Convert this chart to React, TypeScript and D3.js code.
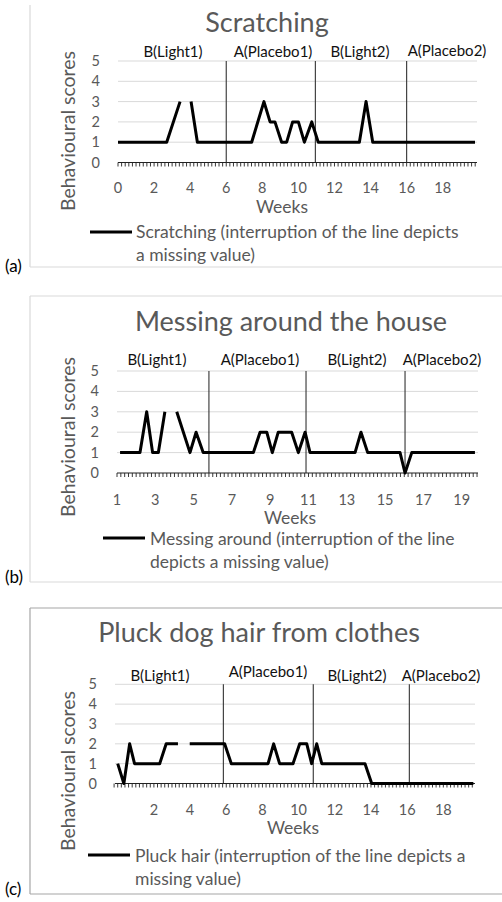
import React from "react";
import * as d3 from "d3";

// ---------- data ----------
const titles = ["Scratching", "Messing around the house", "Pluck dog hair from clothes"];
const panelLetters = ["(a)", "(b)", "(c)"];
const phaseNames = ["B(Light1)", "A(Placebo1)", "B(Light2)", "A(Placebo2)"];
const yTicks = [0, 1, 2, 3, 4, 5];

const legendA = ["Scratching (interruption of the line depicts", "a missing value)"];
const legendB = ["Messing around (interruption of the line", "depicts a missing value)"];
const legendC = ["Pluck hair (interruption of the line depicts a", "missing value)"];

const weeksA = [0, 2.7, 3.44, 3.75, 4.05, 4.4, 7.41, 8.09, 8.43, 8.7, 9.07, 9.35, 9.68, 10.0, 10.33, 10.74, 11.1, 13.38, 13.75, 14.12, 19.79];
const scoresA = [1, 1, 3, null, 3, 1, 1, 3, 2, 2, 1, 1, 2, 2, 1, 2, 1, 1, 3, 1, 1];
const phaseLinesA = [6, 10.94, 16];
const xTicksA = [0, 2, 4, 6, 8, 10, 12, 14, 16, 18];

const weeksB = [1.16, 2.2, 2.55, 2.86, 3.16, 3.5, 3.8, 4.12, 4.81, 5.13, 5.5, 8.12, 8.47, 8.82, 9.11, 9.42, 10.12, 10.47, 10.82, 11.08, 13.43, 13.74, 14.09, 15.78, 16.04, 16.39, 19.69];
const scoresB = [1, 1, 3, 1, 1, 3, null, 3, 1, 2, 1, 1, 2, 2, 1, 2, 2, 1, 2, 1, 1, 2, 1, 1, 0, 1, 1];
const phaseLinesB = [5.8, 10.87, 16.04];
const xTicksB = [1, 3, 5, 7, 9, 11, 13, 15, 17, 19];

const weeksC = [0, 0.34, 0.66, 0.93, 2.32, 2.68, 3.33, 3.65, 3.98, 5.91, 6.28, 8.31, 8.62, 8.95, 9.69, 10.06, 10.45, 10.72, 11.0, 11.28, 13.67, 14.04, 19.66];
const scoresC = [1, 0, 2, 1, 1, 2, 2, null, 2, 2, 1, 1, 2, 1, 1, 2, 2, 1, 2, 1, 1, 0, 0];
const phaseLinesC = [5.84, 10.81, 16.12];
const xTicksC = [2, 4, 6, 8, 10, 12, 14, 16, 18];

// ---------- layout ----------
const FONT = "Lato, 'Open Sans', sans-serif";
const GRAY = "#595959";

type PanelCfg = {
  title: string;
  letter: string;
  legend: string[];
  weeks: number[];
  scores: (number | null)[];
  phaseLines: number[];
  xTicks: number[];
  xDomain: [number, number];
  xRange: [number, number];
  yRange: [number, number];
  titleX: number;
  titleY: number;
  phaseX: number[];
  phaseY: number[];
  frameTop: number | null;
  frameTopY: number;
  frameBottom: number;
  frameColor: string;
  yTitleCY: number;
  xLabelY: number;
  weeksX: number;
  weeksY: number;
  legLineX: [number, number];
  legLineY: number;
  legTextX: number;
  legTextY: number;
  letterY: number;
};

const panels: PanelCfg[] = [
  {
    title: titles[0], letter: panelLetters[0], legend: legendA,
    weeks: weeksA, scores: scoresA, phaseLines: phaseLinesA, xTicks: xTicksA,
    xDomain: [0, 19.9], xRange: [118, 477], yRange: [162.5, 61],
    titleX: 267, titleY: 32,
    phaseX: [173, 273, 360, 447], phaseY: [57, 57, 57, 56],
    frameTop: null, frameTopY: 5, frameBottom: 267, frameColor: "#d9d9d9",
    yTitleCY: 131, xLabelY: 192.5, weeksX: 282, weeksY: 213,
    legLineX: [90, 132], legLineY: 232, legTextX: 136, legTextY: 238, letterY: 272,
  },
  {
    title: titles[1], letter: panelLetters[1], legend: legendB,
    weeks: weeksB, scores: scoresB, phaseLines: phaseLinesB, xTicks: xTicksB,
    xDomain: [1, 19.85], xRange: [117, 478], yRange: [473, 371],
    titleX: 291, titleY: 331,
    phaseX: [157, 260, 357, 442], phaseY: [365, 365, 365, 365],
    frameTop: 296, frameTopY: 296, frameBottom: 582, frameColor: "#d9d9d9",
    yTitleCY: 437, xLabelY: 504.5, weeksX: 290, weeksY: 524,
    legLineX: [103, 145], legLineY: 538, legTextX: 150, legTextY: 545, letterY: 583,
  },
  {
    title: titles[2], letter: panelLetters[2], legend: legendC,
    weeks: weeksC, scores: scoresC, phaseLines: phaseLinesC, xTicks: xTicksC,
    xDomain: [-0.15, 19.75], xRange: [115, 475], yRange: [783.5, 684.3],
    titleX: 259, titleY: 642,
    phaseX: [160, 268, 357, 441], phaseY: [681, 677, 681, 681],
    frameTop: 608, frameTopY: 608, frameBottom: 894, frameColor: "#a6a6a6",
    yTitleCY: 771, xLabelY: 814.5, weeksX: 293, weeksY: 834,
    legLineX: [88, 130], legLineY: 855, legTextX: 135, legTextY: 862, letterY: 895,
  },
];

function Panel({ p }: { p: PanelCfg }) {
  const x = d3.scaleLinear().domain(p.xDomain).range(p.xRange);
  const y = d3.scaleLinear().domain([0, 5]).range(p.yRange);
  const pts = p.weeks.map((w, i) => ({ w, s: p.scores[i] }));
  const line = d3
    .line<{ w: number; s: number | null }>()
    .defined((d) => d.s !== null)
    .x((d) => x(d.w))
    .y((d) => y(d.s as number));
  const minor = d3.range(Math.round(p.xDomain[0] / 0.2), Math.floor(p.xDomain[1] / 0.2) + 1).map((k) => k * 0.2);
  const [x0, x1] = p.xRange;
  return (
    <g>
      {/* frame */}
      {p.frameTop !== null && (
        <line x1={30} x2={502} y1={p.frameTop} y2={p.frameTop} stroke={p.frameColor} strokeWidth={1.2} />
      )}
      <line x1={30} x2={30} y1={p.frameTopY} y2={p.frameBottom} stroke={p.frameColor} strokeWidth={1.2} />
      <line x1={30} x2={502} y1={p.frameBottom} y2={p.frameBottom} stroke={p.frameColor} strokeWidth={1.2} />

      <text x={p.titleX} y={p.titleY} textAnchor="middle" fontSize={27} fill={GRAY}>{p.title}</text>

      {/* grid */}
      {yTicks.slice(1).map((t) => (
        <line key={t} x1={x0} x2={x1} y1={y(t)} y2={y(t)} stroke="#d9d9d9" strokeWidth={1} />
      ))}
      {yTicks.map((t) => (
        <text key={t} x={p.xRange[0] - 18} y={y(t) + 5} textAnchor="end" fontSize={14.5} fill={GRAY}>{t}</text>
      ))}

      {/* phase lines */}
      {p.phaseLines.map((v, i) => (
        <line key={i} x1={x(v)} x2={x(v)} y1={y(5)} y2={y(0)} stroke="#333" strokeWidth={1.1} />
      ))}
      {phaseNames.map((n, i) => (
        <text key={n} x={p.phaseX[i]} y={p.phaseY[i]} textAnchor="middle" fontSize={15} fill="#111">{n}</text>
      ))}

      {/* x axis */}
      <line x1={x0} x2={x1} y1={y(0)} y2={y(0)} stroke="#222" strokeWidth={1.2} />
      {minor.map((m, i) => (
        <line key={i} x1={x(m)} x2={x(m)} y1={y(0)} y2={y(0) + 4} stroke="#222" strokeWidth={0.9} />
      ))}
      {p.xTicks.map((t) => (
        <text key={t} x={x(t)} y={p.xLabelY} textAnchor="middle" fontSize={14.5} fill={GRAY}>{t}</text>
      ))}
      <text x={p.weeksX} y={p.weeksY} textAnchor="middle" fontSize={17.5} fill={GRAY}>Weeks</text>
      <text transform={`translate(75,${p.yTitleCY}) rotate(-90)`} textAnchor="middle" fontSize={19.5} fill={GRAY}>Behavioural scores</text>

      {/* data */}
      <path d={line(pts) || ""} fill="none" stroke="#000" strokeWidth={3} strokeLinejoin="round" />

      {/* legend */}
      <line x1={p.legLineX[0]} x2={p.legLineX[1]} y1={p.legLineY} y2={p.legLineY} stroke="#000" strokeWidth={3} />
      {p.legend.map((l, i) => (
        <text key={i} x={p.legTextX} y={p.legTextY + i * 22.5} fontSize={17.5} fill={GRAY}>{l}</text>
      ))}
      <text x={5} y={p.letterY} fontSize={17} fill="#000">{p.letter}</text>
    </g>
  );
}

export default function App() {
  return (
    <svg width={502} height={902} style={{ position: "absolute", left: 0, top: 0, background: "#fff" }} fontFamily={FONT}>
      <rect width={502} height={902} fill="#fff" />
      {panels.map((p, i) => (
        <Panel key={i} p={p} />
      ))}
    </svg>
  );
}
